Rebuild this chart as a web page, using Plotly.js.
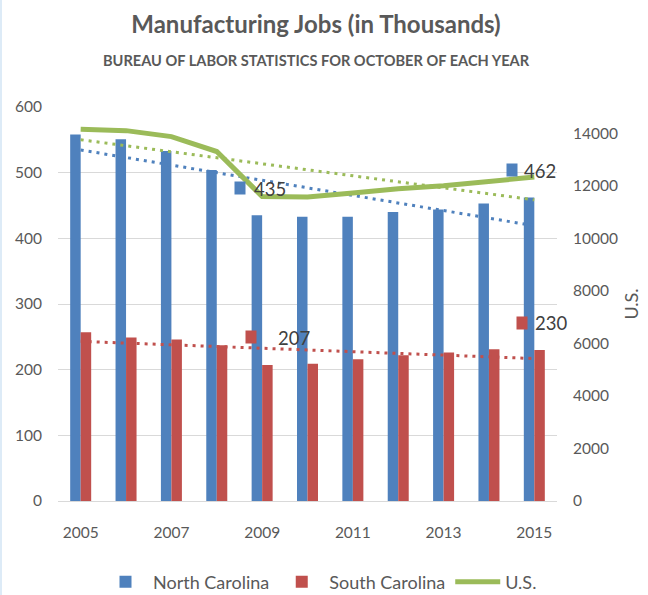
<!DOCTYPE html>
<html>
<head>
<meta charset="utf-8">
<script src="https://cdn.plot.ly/plotly-3.0.1.min.js"></script>
<style>
  html, body { margin: 0; padding: 0; background: #ffffff; }
  #chart { width: 648px; height: 595px; }
</style>
</head>
<body>
<div id="chart"></div>
<script>
// ---- data ----
const years = [2005, 2006, 2007, 2008, 2009, 2010, 2011, 2012, 2013, 2014, 2015];
const ncJobs = [558, 551, 533, 504, 435, 433, 433, 440, 444, 453, 462];
const scJobs = [257, 249, 246, 237, 207, 209, 216, 222, 226, 231, 230];
const usJobs = [14155, 14100, 13873, 13304, 11595, 11572, 11723, 11887, 12000, 12165, 12332];
const seriesNames = ['North Carolina', 'South Carolina', 'U.S.'];
const labelledYears = [2009, 2015];

const titleText = 'Manufacturing Jobs (in Thousands)';
const subtitleText = 'BUREAU OF LABOR STATISTICS FOR OCTOBER OF EACH YEAR';

// ---- styling ----
const FONT = "Lato, 'Open Sans', sans-serif";
const GRAY = '#595959';
const BLUE = '#4F81BD';
const RED = '#C0504D';
const GREEN = '#9BBB59';

// linear least-squares trendline (as Excel draws it) computed from the series
function linearTrend(xs, ys) {
  const n = xs.length;
  const mx = xs.reduce((a, b) => a + b, 0) / n;
  const my = ys.reduce((a, b) => a + b, 0) / n;
  let sxy = 0, sxx = 0;
  for (let i = 0; i < n; i++) { sxy += (xs[i] - mx) * (ys[i] - my); sxx += (xs[i] - mx) ** 2; }
  const slope = sxy / sxx;
  return xs.map(x => my + slope * (x - mx));
}

const dotDash = '3px,5px';

const traces = [
  { type: 'bar', name: seriesNames[0], x: years, y: ncJobs, marker: { color: BLUE }, yaxis: 'y', hoverinfo: 'x+y+name' },
  { type: 'bar', name: seriesNames[1], x: years, y: scJobs, marker: { color: RED }, yaxis: 'y', hoverinfo: 'x+y+name' },
  { type: 'scatter', mode: 'lines', x: years, y: linearTrend(years, ncJobs), line: { color: BLUE, width: 3, dash: dotDash }, showlegend: false, yaxis: 'y', hoverinfo: 'skip' },
  { type: 'scatter', mode: 'lines', x: years, y: linearTrend(years, scJobs), line: { color: RED, width: 3, dash: dotDash }, showlegend: false, yaxis: 'y', hoverinfo: 'skip' },
  { type: 'scatter', mode: 'lines', name: seriesNames[2], x: years, y: usJobs, line: { color: GREEN, width: 5 }, yaxis: 'y2' },
  { type: 'scatter', mode: 'lines', x: years, y: linearTrend(years, usJobs), line: { color: GREEN, width: 3, dash: dotDash }, showlegend: false, yaxis: 'y2', hoverinfo: 'skip' }
];

// data labels (legend-key square + value) for selected years
const labelOffsets = {
  nc: { 2009: { sq: [-22, 27], tx: [8, 26] }, 2015: { sq: [-22, 28], tx: [6, 27] } },
  sc: { 2009: { sq: [-11, 28], tx: [32, 27] }, 2015: { sq: [-12, 27], tx: [17, 27] } }
};
const annotations = [];
[['nc', ncJobs, BLUE], ['sc', scJobs, RED]].forEach(([key, vals, col]) => {
  labelledYears.forEach(yr => {
    const i = years.indexOf(yr);
    const off = labelOffsets[key][yr];
    annotations.push({
      x: yr, y: vals[i], xref: 'x', yref: 'y', showarrow: false,
      text: ' ', font: { size: 2 }, width: 10, height: 12, bgcolor: col, borderpad: 0,
      xanchor: 'center', yanchor: 'middle', xshift: off.sq[0], yshift: off.sq[1]
    });
    annotations.push({
      x: yr, y: vals[i], xref: 'x', yref: 'y', showarrow: false,
      text: String(vals[i]), font: { family: FONT, size: 18.5, color: '#404040' },
      xanchor: 'center', yanchor: 'middle', xshift: off.tx[0], yshift: off.tx[1]
    });
  });
});
annotations.push({
  text: subtitleText, xref: 'paper', yref: 'paper', x: (316 - 58) / 499, y: 1 + (107 - 61) / 394,
  xanchor: 'center', yanchor: 'middle', showarrow: false,
  font: { family: FONT, size: 14.6, color: GRAY, weight: 'bold' }
});

const layout = {
  width: 648, height: 595,
  margin: { l: 58, r: 91, t: 107, b: 94, autoexpand: false },
  paper_bgcolor: '#ffffff', plot_bgcolor: '#ffffff',
  title: {
    text: '<b>' + titleText + '</b>', xref: 'paper', x: (316 - 58) / 499, xanchor: 'center',
    yref: 'container', y: 1 - 25 / 595, yanchor: 'middle',
    font: { family: FONT, size: 24, color: GRAY }
  },
  barmode: 'group', bargap: 0.537, bargroupgap: 0,
  xaxis: {
    range: [2004.5, 2015.5], tickmode: 'linear', tick0: 2005, dtick: 2,
    showgrid: false, zeroline: false, showline: false,
    ticks: 'outside', ticklen: 17, tickcolor: 'rgba(0,0,0,0)',
    tickfont: { family: FONT, size: 15.5, color: GRAY }, automargin: false
  },
  yaxis: {
    range: [0, 600], dtick: 100, tick0: 0, tickformat: 'd',
    showgrid: true, gridcolor: '#D9D9D9', gridwidth: 1,
    zeroline: true, zerolinecolor: '#D9D9D9', zerolinewidth: 1, showline: false,
    ticks: 'outside', ticklen: 12, tickcolor: 'rgba(0,0,0,0)',
    tickfont: { family: FONT, size: 15.5, color: GRAY }, automargin: false
  },
  yaxis2: {
    overlaying: 'y', side: 'right', range: [0, 15000], dtick: 2000, tick0: 0, tickformat: 'd',
    showgrid: false, zeroline: false, showline: false,
    ticks: 'outside', ticklen: 12, tickcolor: 'rgba(0,0,0,0)',
    tickfont: { family: FONT, size: 15.5, color: GRAY },
    title: { text: 'U.S.', font: { family: FONT, size: 18, color: GRAY }, standoff: 8 },
    automargin: false
  },
  showlegend: true,
  legend: {
    orientation: 'h', xref: 'container', x: 320 / 648, xanchor: 'center',
    yref: 'container', y: 1 - 582 / 595, yanchor: 'middle',
    font: { family: FONT, size: 18, color: GRAY },
    traceorder: 'normal', itemwidth: 45, bgcolor: 'rgba(0,0,0,0)'
  },
  annotations: annotations,
  shapes: [{
    type: 'line', xref: 'paper', yref: 'paper',
    x0: (1 - 58) / 499, x1: (1 - 58) / 499, y0: -94 / 394, y1: 1 + 107 / 394,
    line: { color: '#DDEBF7', width: 2 }
  }]
};

Plotly.newPlot('chart', traces, layout, { displayModeBar: false, staticPlot: true });
</script>
</body>
</html>
